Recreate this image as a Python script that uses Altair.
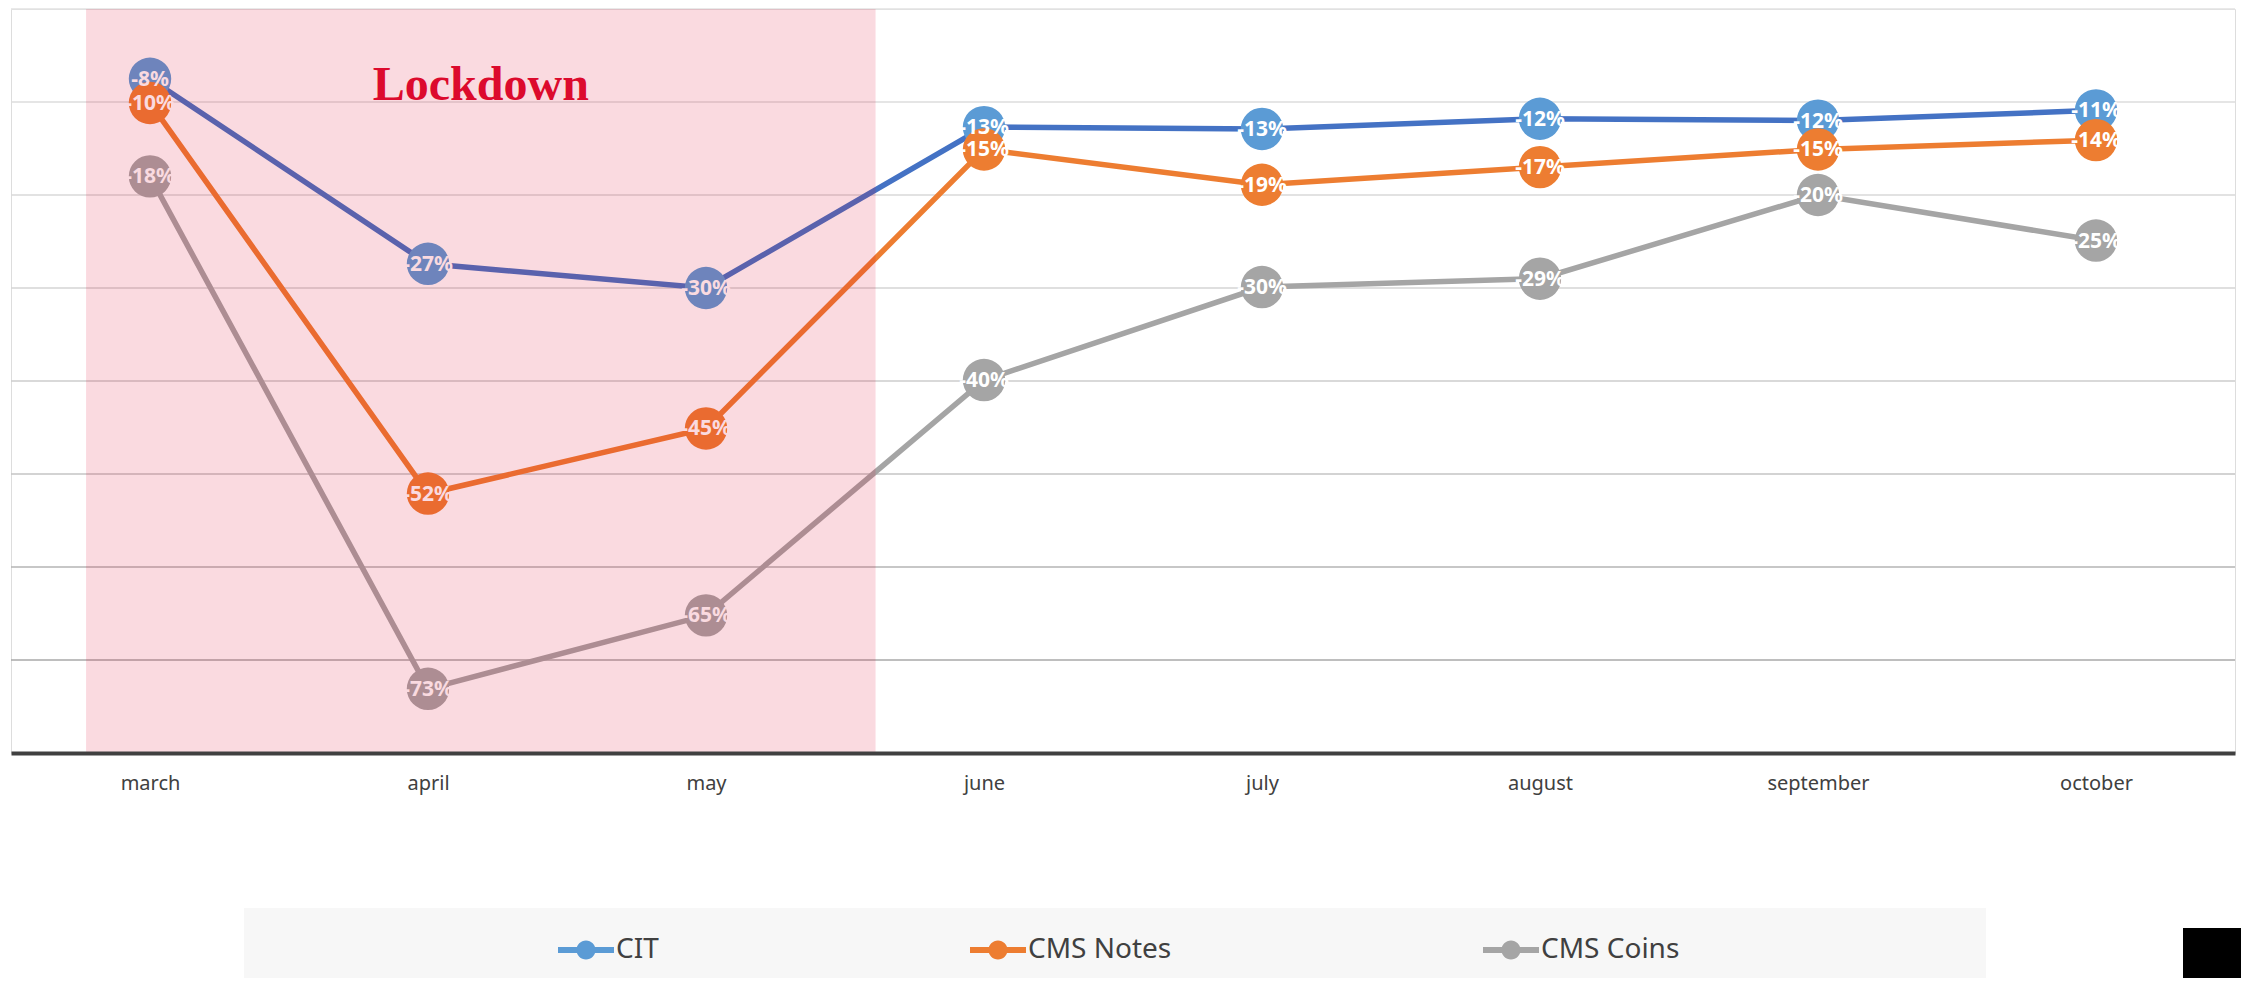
import json
import altair as alt
import pandas as pd

# ---------------- data ----------------
months = ["march", "april", "may", "june", "july", "august", "september", "october"]
series = ["CIT", "CMS Notes", "CMS Coins"]
cit = [-7.5, -27.4, -30.0, -12.7, -12.9, -11.8, -12.0, -10.9]
cms_notes = [-10.1, -52.1, -45.1, -15.1, -18.9, -17.0, -15.1, -14.1]
cms_coins = [-18.0, -73.1, -65.2, -39.9, -29.9, -29.0, -20.0, -24.9]

line_colors = ["#4472c4", "#ed7d31", "#a5a5a5"]
marker_colors = ["#5b9bd5", "#ed7d31", "#a5a5a5"]

grid_values = [0, -10, -20, -30, -40, -50, -60, -70]
grid_colors = ["#e2e2e2", "#dcdcdc", "#d9d9d9", "#d4d4d4", "#cdcdcd", "#c4c4c4", "#b4b4b4", "#a8a8a8"]

lockdown_span = [-0.23, 2.61]      # in month-index units
lockdown_text = "Lockdown"
lockdown_text_y = -9.8
y_domain = [-80, 0]

# ---------------- tables ----------------
marker_keys = ["m:" + s for s in series]
rows = []
for k, (s, vals) in enumerate(zip(series, [cit, cms_notes, cms_coins])):
    for i, v in enumerate(vals):
        rows.append({"series": s, "marker": marker_keys[k], "k": k, "idx": i,
                     "value": v, "label": f"{v:.0f}%"})
df = pd.DataFrame(rows)

grid_df = pd.DataFrame({"gv": grid_values, "gc": grid_colors})
lock_df = pd.DataFrame({
    "start": [lockdown_span[0]], "end": [lockdown_span[1]],
    "mid": [(lockdown_span[0] + lockdown_span[1]) / 2],
    "top": [y_domain[1]], "bottom": [y_domain[0]],
    "ty": [lockdown_text_y], "txt": [lockdown_text],
})
one = pd.DataFrame({"a": [0]})

W, H = 2224, 744

xscale = alt.Scale(domain=[-0.5, 7.5], nice=False, zero=False)
yscale = alt.Scale(domain=y_domain, nice=False, zero=False)
xaxis = alt.Axis(
    values=list(range(len(months))),
    labelExpr=json.dumps(months) + "[datum.value]",
    title=None, grid=False, ticks=False,
    domainColor="#404040", domainWidth=4,
    labelFont="Noto Sans", labelFontSize=20, labelColor="#404040",
    labelPadding=20, labelFlush=False, labelOverlap=False, zindex=1,
)


def X(field):
    return alt.X(field, scale=xscale, axis=xaxis)


def Y(field):
    return alt.Y(field, scale=yscale, axis=None)


grid = alt.Chart(grid_df).mark_rule(strokeWidth=1.5).encode(
    y=Y("gv:Q"),
    stroke=alt.Stroke("gc:N", scale=None),
)

# legend symbol: a short line with a circle marker on it
legend_path = ("M -1 -0.107 L 1 -0.107 L 1 0.107 L -1 0.107 Z "
               "M 0.34 0 A 0.34 0.34 0 1 1 -0.34 0 A 0.34 0.34 0 1 1 0.34 0 Z")

lines = alt.Chart(df).mark_line(strokeWidth=5.5).encode(
    x=X("idx:Q"),
    y=Y("value:Q"),
    stroke=alt.Stroke("series:N", scale=alt.Scale(domain=series, range=line_colors),
                      legend=None),
    detail="series:N",
    order="idx:Q",
)

points = alt.Chart(df).mark_circle(size=1800, opacity=1).encode(
    x=X("idx:Q"),
    y=Y("value:Q"),
    fill=alt.Fill("marker:N", scale=alt.Scale(domain=marker_keys, range=marker_colors),
                  legend=alt.Legend(
                      orient="none", legendX=547, legendY=913, direction="horizontal",
                      columns=3, columnPadding=311, title=None, padding=0,
                      symbolType=legend_path, symbolSize=3136, symbolStrokeWidth=0,
                      symbolOpacity=1, labelOffset=2,
                      labelExpr="slice(datum.label, 2)",
                      labelFont="Noto Sans", labelFontSize=28, labelColor="#404040",
                      labelLimit=400)),
    order="k:Q",
)

labels = alt.Chart(df).mark_text(
    font="Noto Sans", fontSize=21, fontWeight="bold", color="white",
    align="center", baseline="middle", dy=1,
).encode(
    x=X("idx:Q"),
    y=Y("value:Q"),
    text="label:N",
)

overlay = alt.Chart(lock_df).mark_rect(color="#dc0a2d", opacity=0.15).encode(
    x=X("start:Q"), x2="end:Q",
    y=Y("bottom:Q"), y2="top:Q",
)

lock_label = alt.Chart(lock_df).mark_text(
    font="Liberation Serif", fontSize=48, fontWeight="bold", color="#dc0a2d",
    align="center", baseline="alphabetic",
).encode(
    x=X("mid:Q"),
    y=Y("ty:Q"),
    text="txt:N",
)

legend_bg = alt.Chart(one).mark_rect(color="#f7f7f7").encode(
    x=alt.value(233), x2=alt.value(1975), y=alt.value(899), y2=alt.value(969),
)

corner_box = alt.Chart(one).mark_rect(color="#000000").encode(
    x=alt.value(2172), x2=alt.value(2230), y=alt.value(919), y2=alt.value(969),
)

chart = alt.layer(
    grid, lines, points, labels, overlay, lock_label, legend_bg, corner_box
).properties(
    width=W, height=H,
    autosize=alt.AutoSizeParams(type="none"),
    padding={"left": 3, "top": 1, "right": 6, "bottom": 225},
).configure_view(stroke=None).configure(background="white")

chart.save("out.html", embed_options={"renderer": "svg", "actions": False})
